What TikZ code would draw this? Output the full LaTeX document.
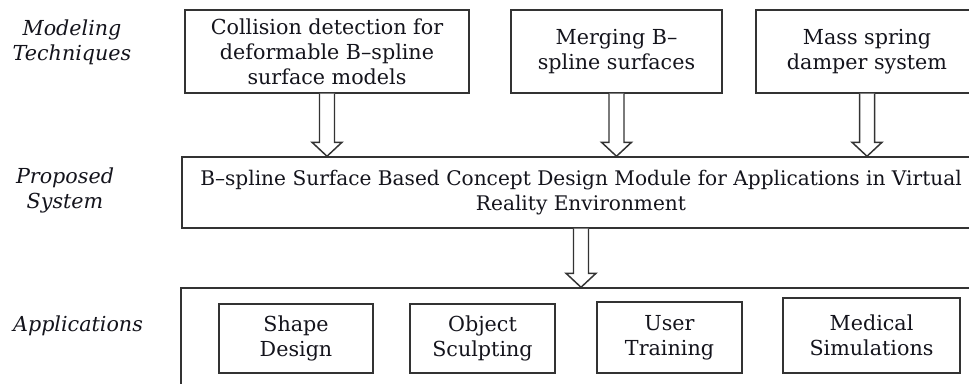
\documentclass[tikz,border=0pt]{standalone}
\usepackage{fontspec}
\setmainfont{DejaVu Serif}
\usepackage{tikz}
\usetikzlibrary{
  positioning,
  calc
}
\usepackage{xcolor}
\definecolor{framegray}{HTML}{333333}
\definecolor{inkdark}{HTML}{14141C}
\tikzset{
  techbox/.style={
    rectangle, draw=framegray, line width=1.1pt,
    minimum height=62.25pt, align=center, text=inkdark,
    font=\fontsize{15.5}{18.75}\selectfont
  },
  appbox/.style={
    rectangle, draw=framegray, line width=1.1pt,
    minimum height=51.75pt, align=center, text=inkdark,
    font=\fontsize{15.5}{18.75}\selectfont
  },
  sidelabel/.style={align=center, text=inkdark,
    font=\fontsize{15.5}{18.75}\selectfont\itshape},
  hollow/.style={draw=framegray, line width=1.1pt, fill=white, line join=miter},
}
\newcommand{\hollowarrow}[2]{%
  \draw[hollow] ($(#1)+(-7.5,0)$) -- ($(#2)+(-7.5,-14)$) -- ($(#2)+(-15,-14)$)
    -- (#2) -- ($(#2)+(15,-14)$) -- ($(#2)+(7.5,-14)$) -- ($(#1)+(7.5,0)$);}

\begin{document}
\begin{tikzpicture}[x=0.75pt, y=-0.75pt]
\clip (0,0) rectangle (969,383);
\fill[white] (0,0) rectangle (969,383);

% Row labels
\node[sidelabel] (lmodel) at (72, 42) {Modeling\\Techniques};
\node[sidelabel] (lprop) at (65, 190) {Proposed\\System};
\node[sidelabel] (lapps) at (78, 326) {Applications};

% Modeling techniques
\node[techbox, minimum width=213pt] (m1) at (327, 51.5) {Collision detection for\\deformable B--spline\\surface models};
\node[techbox, minimum width=158.25pt] (m2) at (616.5, 51.5) {Merging B--\\spline surfaces};
\node[techbox, minimum width=166.5pt] (m3) at (867, 51.5) {Mass spring\\damper system};

% Proposed system
\node[techbox, minimum width=598.5pt, minimum height=53.25pt, font=\fontsize{15.1}{18.5}\selectfont] (prop) at (581, 192.5) {B--spline Surface Based Concept Design Module for Applications in Virtual\\Reality Environment};

% Applications
\node[draw=framegray, line width=1.1pt, minimum width=599.25pt, minimum height=80.25pt] (apps) at (580.5, 341.5) {};
\node[appbox, minimum width=115.5pt] (shape) at (296, 338.5) {Shape\\Design};
\node[appbox, minimum width=108.75pt] (sculpt) at (482.5, 338.5) {Object\\Sculpting};
\node[appbox, minimum width=108.75pt, minimum height=53.25pt] (train) at (669.5, 337.5) {User\\Training};
\node[appbox, minimum width=132.75pt, minimum height=56.25pt] (medic) at (871.5, 335.5) {Medical\\Simulations};

% Block arrows
\hollowarrow{m1.south}{m1.south |- prop.north}
\hollowarrow{m2.south}{m2.south |- prop.north}
\hollowarrow{m3.south}{m3.south |- prop.north}
\hollowarrow{prop.south}{prop.south |- apps.north}

\end{tikzpicture}
\end{document}
